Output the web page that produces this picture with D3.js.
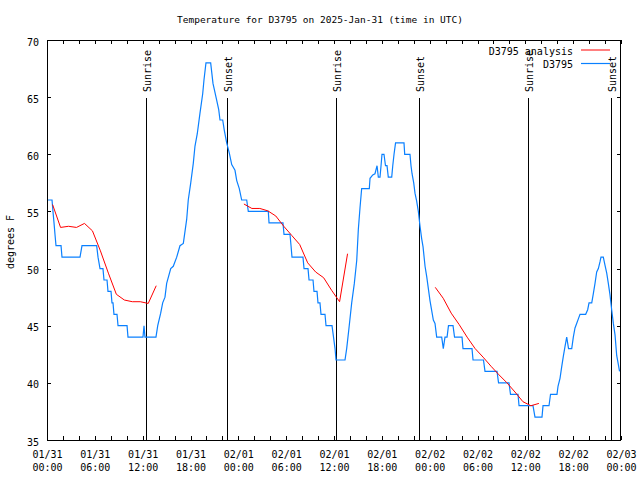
<!DOCTYPE html>
<html><head><meta charset="utf-8">
<script src="https://cdn.jsdelivr.net/npm/d3@7"></script>
<style>body{margin:0;background:#fff}svg{display:block}</style>
</head><body>
<script>
// ---- data (hours after 2025-01-31 00:00 UTC) ----
const chartTitle = "Temperature for D3795 on 2025-Jan-31 (time in UTC)";
const yLabel = "degrees F";
const yTicks = [35,40,45,50,55,60,65,70];
const obsHours = [0.13,0.63,0.75,0.88,1.00,1.13,1.76,1.88,4.14,4.39,6.23,6.40,6.65,7.02,7.15,7.53,7.65,8.03,8.15,8.28,8.40,8.78,8.91,10.04,10.16,12.04,12.17,12.29,13.67,13.89,14.26,14.51,14.80,15.01,15.52,15.84,16.27,16.68,17.10,17.52,17.72,18.03,18.35,18.56,18.85,19.19,19.53,19.69,19.94,20.53,20.82,21.20,21.54,21.70,22.04,22.24,22.54,22.87,23.17,23.58,23.80,24.12,24.42,25.05,25.25,27.76,27.85,29.60,29.73,30.48,30.61,30.73,32.11,32.24,32.74,32.87,33.37,33.49,33.87,33.99,34.24,34.37,34.87,35.00,35.75,35.94,36.13,36.25,37.38,37.59,37.88,38.22,38.55,38.85,39.05,39.26,39.47,40.43,40.52,40.86,41.14,41.40,41.56,41.77,41.90,42.02,42.27,42.46,42.65,42.81,43.24,43.37,43.53,43.72,44.78,44.87,45.53,45.66,45.79,46.00,46.16,46.37,46.58,46.79,47.00,47.17,47.42,47.63,48.04,48.46,48.67,48.88,49.51,49.71,49.92,50.18,50.36,50.93,51.12,52.06,52.18,53.31,53.44,54.75,54.94,56.45,56.64,57.95,58.14,59.08,59.21,60.96,61.21,62.09,62.22,62.97,63.16,63.97,64.10,64.35,64.56,64.76,64.98,65.19,65.42,65.82,66.02,66.23,66.44,66.65,66.86,67.57,67.82,67.99,68.33,68.53,68.74,68.95,69.16,69.37,69.49,69.78,69.99,70.21,70.41,70.62,70.83,71.04,71.25,71.46,71.67,71.82];
const obsTempF = [56,56,55,54,53,52,52,51,51,52,52,51,50,50,49,49,48,48,47,47,46,46,45,45,44,44,45,44,44,45,46.1,47,47.5,48.7,50,50.2,51,52,52.2,54.3,56,57.5,59.2,60.7,61.8,63.6,65.3,66.5,68,68,66.2,65,63.9,63,63,62.1,61,60.1,59.1,58.6,57.7,57,56,56,55,55,54,54,53,53,52,51,51,50,50,49,49,48,48,47,47,46,46,45,45,44,43,42,42,43,44.8,47,48.7,50.7,53.4,55.3,57,57,57.9,58.2,58.3,59,58,58,59,60,60,59,59,58,58,59,60,61,61,60,60,59,58.3,57.5,56.6,55.9,55,53.7,52.6,51.9,50.2,49.3,47.2,45.5,45.2,44,44,43,44,44,45,45,44,44,43,43,42,42,41,41,40,40,39,39,38,38,37,37,38,38,39,39,39.7,40.4,41.4,42.3,43.2,44,43,43,44,44.8,45.2,45.6,46,46,46.4,47,47,47.8,48.7,49.7,50,50.6,51,51,50.3,49.6,48.7,47.7,46.4,45.2,44.2,42.4,41.6,41];
const analysisStartHours = [0.7, 24.7, 48.7];
const analysisDay1 = [55.6,53.6,53.7,53.6,53.95,53.3,51.55,49.6,47.75,47.25,47.1,47.1,46.95,48.5];
const analysisDay2 = [55.65,55.26,55.26,55.05,54.6,53.7,52.9,52.1,50.5,49.7,49.2,48.1,47.1,51.3];
const analysisDay3 = [48.36,47.4,46.1,45.1,44.0,43.0,42.25,41.45,40.7,40.0,39.2,38.35,38.0,38.2];
const sunriseHours = [12.36, 36.25, 60.34];
const sunsetHours = [22.64, 46.60, 70.75];
const seriesNames = ["D3795 analysis", "D3795"];

// ---- drawing ----
const W = 640, H = 480;
const L = 47, R = 621, T = 40, B = 440;
const FONT = "'DejaVu Sans Mono', monospace";
const t0 = Date.UTC(2025, 0, 31);
const toDate = h => new Date(t0 + h * 3600e3);

const x = d3.scaleUtc().domain([toDate(0), toDate(72)]).range([L, R]);
const y = d3.scaleLinear().domain([35, 70]).range([B, T]);

const svg = d3.select("body").append("svg").attr("width", W).attr("height", H)
  .style("font-family", FONT);
svg.append("rect").attr("width", W).attr("height", H).attr("fill", "#fff");

const tick2h = d3.range(0, 73, 2).map(toDate);
const fmtD = d3.utcFormat("%m/%d"), fmtT = d3.utcFormat("%H:%M");

// bottom axis
const gB = svg.append("g").attr("transform", `translate(0,${B})`)
  .call(d3.axisBottom(x).tickValues(tick2h).tickSize(-4).tickFormat(() => ""));
gB.selectAll(".tick text").remove();
gB.selectAll(".tick").filter(d => d.getUTCHours() % 6 === 0).append("text")
  .attr("fill", "#000").attr("font-size", 10).attr("text-anchor", "middle")
  .each(function(d) {
    const t = d3.select(this);
    t.append("tspan").attr("x", 0).attr("y", 18).text(fmtD(d));
    t.append("tspan").attr("x", 0).attr("y", 30.5).text(fmtT(d));
  });
// top axis
svg.append("g").attr("transform", `translate(0,${T})`)
  .call(d3.axisTop(x).tickValues(tick2h).tickSize(-4).tickFormat(() => ""));
// left axis
const gL = svg.append("g").attr("transform", `translate(${L},0)`)
  .call(d3.axisLeft(y).tickValues(yTicks).tickSize(-4).tickPadding(8).tickFormat(d3.format("d")));
gL.selectAll(".tick text").attr("font-size", 10).attr("fill", "#000").attr("dy", "0.5em")
  .attr("font-family", FONT);
// right axis
svg.append("g").attr("transform", `translate(${R},0)`)
  .call(d3.axisRight(y).tickValues(yTicks).tickSize(-4).tickFormat(() => ""));
svg.selectAll(".domain").remove();
svg.selectAll(".tick line").attr("stroke", "#000").attr("shape-rendering", "crispEdges");
svg.selectAll("g").attr("font-family", FONT);

// frame
svg.append("rect").attr("x", L + 0.5).attr("y", T + 0.5).attr("width", R - L - 1).attr("height", B - T)
  .attr("fill", "none").attr("stroke", "#000").attr("shape-rendering", "crispEdges");

// title & y label
svg.append("text").attr("x", 320).attr("y", 23).attr("text-anchor", "middle")
  .attr("font-size", 9.5).text(chartTitle);
svg.append("text").attr("transform", "translate(14,242) rotate(-90)").attr("text-anchor", "middle")
  .attr("font-size", 10).text(yLabel);

// sunrise / sunset lines
const sun = sunriseHours.map(h => ({h, label: "Sunrise"}))
  .concat(sunsetHours.map(h => ({h, label: "Sunset"})));
sun.forEach(s => {
  const xs = Math.round(x(toDate(s.h))) + 0.5;
  svg.append("line").attr("x1", xs).attr("x2", xs).attr("y1", 98).attr("y2", B)
    .attr("stroke", "#000").attr("shape-rendering", "crispEdges");
  svg.append("text").attr("transform", `translate(${xs},92) rotate(-90)`)
    .attr("dy", "0.45em").attr("font-size", 10).text(s.label);
});

// observed series
const obs = obsHours.map((h, i) => ({t: toDate(h), v: obsTempF[i]}));
const line = d3.line().x(d => x(d.t)).y(d => y(d.v));
svg.append("path").datum(obs).attr("d", line).attr("fill", "none")
  .attr("stroke", "#0a80ff").attr("stroke-width", 1.2);

// analysis series (three hourly runs)
[analysisDay1, analysisDay2, analysisDay3].forEach((vals, k) => {
  const pts = vals.map((v, i) => ({t: toDate(analysisStartHours[k] + i), v}));
  svg.append("path").datum(pts).attr("d", line).attr("fill", "none")
    .attr("stroke", "#ff0000").attr("stroke-width", 1);
});

// legend
const legColors = ["#ff0000", "#0a80ff"];
seriesNames.forEach((n, i) => {
  const yy = 50 + i * 13.5;
  svg.append("text").attr("x", 573).attr("y", yy + 4.5).attr("text-anchor", "end")
    .attr("font-size", 10).text(n);
  svg.append("line").attr("x1", 581).attr("x2", 610).attr("y1", yy).attr("y2", yy)
    .attr("stroke", legColors[i]).attr("stroke-width", i ? 1.2 : 1);
});
</script>
</body></html>
